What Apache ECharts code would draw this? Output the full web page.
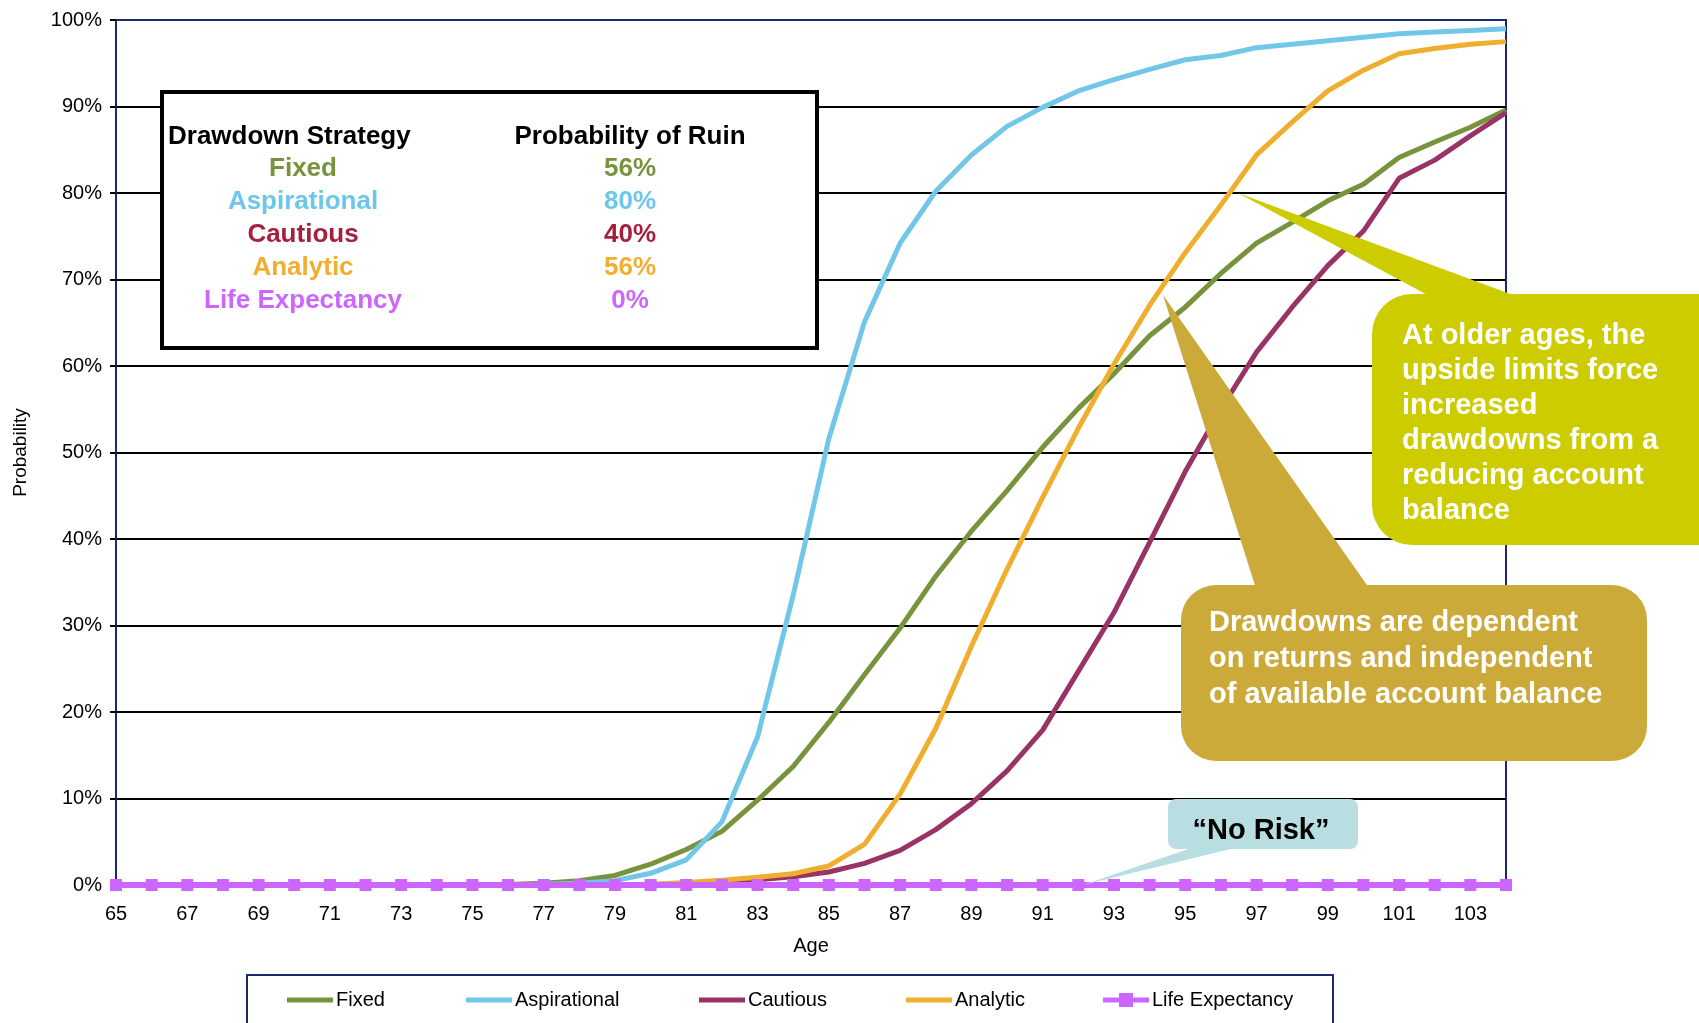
<!DOCTYPE html>
<html>
<head>
<meta charset="utf-8">
<script src="https://cdn.jsdelivr.net/npm/echarts@6/dist/echarts.min.js"></script>
<style>
  html, body { margin: 0; padding: 0; background: #ffffff; }
  #chart { width: 1699px; height: 1023px; }
</style>
</head>
<body>
<div id="chart"></div>
<script>
// Age axis categories
const ages = [65, 66, 67, 68, 69, 70, 71, 72, 73, 74, 75, 76, 77, 78, 79, 80, 81, 82, 83, 84,
              85, 86, 87, 88, 89, 90, 91, 92, 93, 94, 95, 96, 97, 98, 99, 100, 101, 102, 103, 104];

// Probability of ruin (%) by age, per drawdown strategy
const fixed = [0, 0, 0, 0, 0, 0, 0, 0, 0, 0, 0, 0.05, 0.2, 0.5, 1.1, 2.4, 4.1, 6.2, 9.8, 13.7,
               18.8, 24.3, 29.7, 35.7, 40.9, 45.6, 50.6, 55.1, 59.1, 63.5, 66.8, 70.7, 74.2, 76.6, 79.1, 81.0, 84.1, 85.9, 87.6, 89.6];
const aspirational = [0, 0, 0, 0, 0, 0, 0, 0, 0, 0, 0, 0.05, 0.1, 0.2, 0.5, 1.35, 2.9, 7.3, 17.1, 33.5,
                      51.6, 65.1, 74.2, 80.2, 84.4, 87.7, 89.9, 91.8, 93.1, 94.3, 95.4, 95.9, 96.8, 97.2, 97.6, 98.0, 98.4, 98.6, 98.8, 99.0];
const cautious = [0, 0, 0, 0, 0, 0, 0, 0, 0, 0, 0, 0, 0, 0, 0, 0.05, 0.1, 0.3, 0.6, 0.95,
                  1.5, 2.5, 4.0, 6.4, 9.4, 13.2, 17.9, 24.7, 31.5, 39.6, 47.8, 55.0, 61.6, 66.8, 71.6, 75.6, 81.7, 83.8, 86.6, 89.3];
const analytic = [0, 0, 0, 0, 0, 0, 0, 0, 0, 0, 0, 0, 0, 0, 0, 0.1, 0.3, 0.55, 0.9, 1.3,
                  2.2, 4.7, 10.5, 18.1, 27.6, 36.5, 44.8, 52.8, 60.2, 67.0, 73.1, 78.6, 84.4, 88.2, 91.8, 94.2, 96.1, 96.7, 97.2, 97.5];
const lifeExpectancy = [0, 0, 0, 0, 0, 0, 0, 0, 0, 0, 0, 0, 0, 0, 0, 0, 0, 0, 0, 0,
                        0, 0, 0, 0, 0, 0, 0, 0, 0, 0, 0, 0, 0, 0, 0, 0, 0, 0, 0, 0];

// Summary table
const strategyNames = ['Fixed', 'Aspirational', 'Cautious', 'Analytic', 'Life Expectancy'];
const ruinProbabilities = ['56%', '80%', '40%', '56%', '0%'];

// Callout texts
const olderAgesNote = ['At older ages, the', 'upside limits force', 'increased', 'drawdowns from a', 'reducing account', 'balance'];
const dependentNote = ['Drawdowns are dependent', 'on returns and independent', 'of available account balance'];
const noRiskNote = '\u201CNo Risk\u201D';

const FONT = '"Liberation Sans", Arial, sans-serif';
const NAVY = '#1a2a6c';
const seriesColors = ['#77933C', '#72C6E8', '#993366', '#F0AE2F', '#CC66FF'];
const tableColors = ['#77933C', '#6EC6EA', '#A3203F', '#F2AE2E', '#CC66FF'];
const legendLefts = [287, 466, 699, 906, 1103];

const seriesData = [fixed, aspirational, cautious, analytic, lifeExpectancy];

const chart = echarts.init(document.getElementById('chart'), null, { renderer: 'canvas' });

const series = strategyNames.map((name, i) => {
  const isLife = i === 4;
  return {
    name: name,
    type: 'line',
    data: seriesData[i],
    symbol: isLife ? 'rect' : 'none',
    symbolSize: isLife ? 12 : 0,
    showSymbol: isLife,
    lineStyle: { color: seriesColors[i], width: isLife ? 6 : 5 },
    itemStyle: { color: seriesColors[i] },
    z: 2 + i,
    animation: false
  };
});

// Legend keys: a plain bar for the curves, bar plus square marker for life expectancy
const LINE_ICON = 'path://M0,0H46V5H0Z';
const MARKER_ICON = 'path://M0,4.5H46V9.5H0Z M16,0H30V14H16Z';

const legends = strategyNames.map((name, i) => ({
  data: [name],
  left: legendLefts[i],
  top: 990,
  icon: i === 4 ? MARKER_ICON : LINE_ICON,
  itemWidth: 46,
  itemHeight: i === 4 ? 14 : 5,
  itemGap: 0,
  padding: 0,
  selectedMode: false,
  textStyle: { fontSize: 20, color: '#000', fontFamily: FONT, padding: [0, 0, 0, -2] }
}));

// Summary table inside a framed box
const tableRows = [];
tableRows.push({ type: 'text', z: 21, style: { text: 'Drawdown Strategy', x: 168, y: 137, font: 'bold 26px ' + FONT, fill: '#000', textAlign: 'left', textVerticalAlign: 'middle' } });
tableRows.push({ type: 'text', z: 21, style: { text: 'Probability of Ruin', x: 630, y: 137, font: 'bold 26px ' + FONT, fill: '#000', textAlign: 'center', textVerticalAlign: 'middle' } });
strategyNames.forEach((name, i) => {
  const y = 169 + i * 33;
  tableRows.push({ type: 'text', z: 21, style: { text: name, x: 303, y: y, font: 'bold 26px ' + FONT, fill: tableColors[i], textAlign: 'center', textVerticalAlign: 'middle' } });
  tableRows.push({ type: 'text', z: 21, style: { text: ruinProbabilities[i], x: 630, y: y, font: 'bold 26px ' + FONT, fill: tableColors[i], textAlign: 'center', textVerticalAlign: 'middle' } });
});

const graphics = [
  // legend frame
  { type: 'rect', z: 1, shape: { x: 247, y: 975, width: 1086, height: 80 }, style: { fill: 'none', stroke: NAVY, lineWidth: 2 } },
  // table frame
  { type: 'rect', z: 20, shape: { x: 162, y: 92, width: 655, height: 256 }, style: { fill: '#fff', stroke: '#000', lineWidth: 4 } },
  ...tableRows,
  // callout: older ages
  { type: 'polygon', z: 30, shape: { points: [[1238, 193], [1446, 305], [1540, 305]] }, style: { fill: '#CCCC00' } },
  { type: 'rect', z: 30, shape: { x: 1372, y: 294, width: 420, height: 251, r: 40 }, style: { fill: '#CCCC00' } },
  { type: 'text', z: 31, style: { text: olderAgesNote.join('\n'), x: 1402, y: 318, lineHeight: 35, font: 'bold 29px ' + FONT, fill: '#fff', textAlign: 'left', textVerticalAlign: 'top' } },
  // callout: drawdowns dependent on returns
  { type: 'polygon', z: 32, shape: { points: [[1163, 295], [1258, 595], [1374, 595]] }, style: { fill: '#CCAA3A' } },
  { type: 'rect', z: 32, shape: { x: 1181, y: 585, width: 466, height: 176, r: 35 }, style: { fill: '#CCAA3A' } },
  { type: 'text', z: 33, style: { text: dependentNote.join('\n'), x: 1209, y: 605, lineHeight: 36, font: 'bold 29px ' + FONT, fill: '#fff', textAlign: 'left', textVerticalAlign: 'top' } },
  // callout: no risk
  { type: 'polygon', z: 34, shape: { points: [[1083, 885], [1200, 845], [1247, 845]] }, style: { fill: '#B8DEE2' } },
  { type: 'rect', z: 34, shape: { x: 1168, y: 799, width: 190, height: 50, r: 8 }, style: { fill: '#B8DEE2' } },
  { type: 'text', z: 35, style: { text: noRiskNote, x: 1261, y: 831, font: 'bold 29px ' + FONT, fill: '#000', textAlign: 'center', textVerticalAlign: 'middle' } }
];

const splitColors = ['#000', '#000', '#000', '#000', '#000', '#000', '#000', '#000', '#000', '#000', NAVY];

chart.setOption({
  animation: false,
  backgroundColor: '#ffffff',
  textStyle: { fontFamily: FONT },
  grid: {
    left: 116, right: 193, top: 20, bottom: 138,
    containLabel: false,
    outerBoundsMode: 'none',
    show: true,
    borderColor: NAVY,
    borderWidth: 2,
    backgroundColor: 'transparent'
  },
  legend: legends,
  xAxis: {
    type: 'category',
    data: ages.map(String),
    boundaryGap: false,
    name: 'Age',
    nameLocation: 'middle',
    nameGap: 51,
    nameTextStyle: { fontSize: 20, color: '#000', fontFamily: FONT },
    axisLine: { show: true, lineStyle: { color: '#000', width: 2 } },
    axisTick: { show: true, interval: (idx) => idx % 12 === 0, length: 4, lineStyle: { color: '#000', width: 2 } },
    axisLabel: { interval: 1, fontSize: 20, color: '#000', margin: 19, fontFamily: FONT, hideOverlap: false },
    splitLine: { show: false }
  },
  yAxis: {
    type: 'value',
    min: 0,
    max: 100,
    interval: 10,
    name: 'Probability',
    nameLocation: 'middle',
    nameRotate: 90,
    nameGap: 86,
    nameTextStyle: { fontSize: 19, color: '#000', fontFamily: FONT },
    axisLine: { show: true, lineStyle: { color: NAVY, width: 2 } },
    axisTick: { show: true, length: 6, lineStyle: { color: '#000', width: 2 } },
    axisLabel: { formatter: '{value}%', fontSize: 20, color: '#000', margin: 14, fontFamily: FONT },
    splitLine: { show: true, lineStyle: { color: splitColors, width: 2 } }
  },
  series: series,
  graphic: graphics
});
</script>
</body>
</html>
